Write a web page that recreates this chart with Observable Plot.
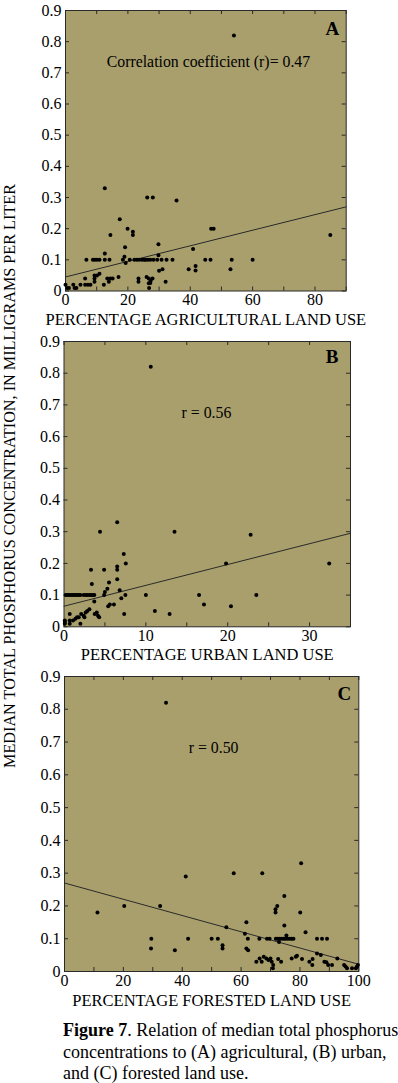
<!DOCTYPE html>
<html>
<head>
<meta charset="utf-8">
<script src="https://cdn.jsdelivr.net/npm/d3@7"></script>
<script src="https://cdn.jsdelivr.net/npm/@observablehq/plot@0.6"></script>
<style>
  body { margin: 0; background: #fff; }
  #wrap { position: relative; width: 398px; height: 1083px; overflow: hidden;
          font-family: "Liberation Serif", "Times New Roman", serif; color: #000; }
  .panel { position: absolute; left: 0; }
  #ylab { position: absolute; left: 10px; top: 476px; white-space: nowrap; font-size: 16.2px;
          transform: translate(-50%, -50%) rotate(-90deg); }
  #cap { position: absolute; left: 63px; top: 1020px; font-size: 18px; line-height: 21.7px; white-space: nowrap; }
</style>
</head>
<body>
<div id="wrap">
  <div id="ylab">MEDIAN TOTAL PHOSPHORUS CONCENTRATION, IN MILLIGRAMS PER LITER</div>
  <div id="pA" class="panel" style="top:0px"></div>
  <div id="pB" class="panel" style="top:330.7px"></div>
  <div id="pC" class="panel" style="top:666px"></div>
  <div id="cap"><b>Figure 7</b>. Relation of median total phosphorus<br>concentrations to (A) agricultural, (B) urban,<br>and (C) forested land use.</div>
</div>
<script>
// ---- Data ----
const yTicks = [0, 0.1, 0.2, 0.3, 0.4, 0.5, 0.6, 0.7, 0.8, 0.9];

// Panel A: agricultural land use
const agTicks = [0, 10, 20, 30, 40, 50, 60, 70, 80, 90];
const agPct = [54, 12.6, 26.2, 28.0, 35.6, 17.4, 19.9, 21.6, 21.6, 14.4, 46.7, 47.5, 84.9, 12.6, 19.1, 29.8, 40.9, 18.9, 19.3, 29.8,
  6.7, 8.8, 9.4, 10.1, 10.9, 12.6, 14.1, 18.4, 20.6, 22.1, 22.9, 23.6, 24.5, 25.2, 25.7, 26.4, 27.2, 28.2, 29.4, 30.8, 32.4, 34.3, 44.8, 46.5, 53.3, 60.0,
  6.3, 6.3, 7.2, 8.0, 9.3, 10.1, 9.3, 9.3, 10.9, 12.3, 13.4, 14.4, 15.1, 13.9, 17.0, 23.4, 23.4,
  26.0, 26.7, 27.3, 27.9, 26.7, 26.8, 27.2, 30.0, 31.1, 32.1, 39.5, 41.7, 41.7, 52.9,
  0, 0.5, 1.1, 2.5, 2.9, 3.5, 4.8];
const agTP = [0.82, 0.33, 0.30, 0.30, 0.29, 0.23, 0.20, 0.19, 0.18, 0.18, 0.20, 0.20, 0.18, 0.12, 0.14, 0.15, 0.135, 0.11, 0.09, 0.115,
  0.1, 0.1, 0.1, 0.1, 0.1, 0.1, 0.1, 0.1, 0.1, 0.1, 0.1, 0.1, 0.1, 0.1, 0.1, 0.1, 0.1, 0.1, 0.1, 0.1, 0.1, 0.1, 0.1, 0.1, 0.1, 0.1,
  0.04, 0.02, 0.02, 0.02, 0.05, 0.05, 0.04, 0.03, 0.055, 0.02, 0.04, 0.04, 0.04, 0.03, 0.045, 0.04, 0.03,
  0.045, 0.04, 0.033, 0.04, 0.025, 0.01, 0.026, 0.065, 0.07, 0.03, 0.07, 0.08, 0.066, 0.07,
  0.02, 0.01, 0.01, 0.02, 0.01, 0.01, 0.02];
const agFit = [[0, 0.045], [90, 0.27]];

// Panel B: urban land use
const urbTicks = [0, 5, 10, 15, 20, 25, 30, 35];
const urbPct = [10.6, 6.5, 4.4, 13.5, 22.8, 7.3, 7.55, 6.5, 6.5, 4.9, 3.3, 19.8, 32.4, 6.5, 5.5, 3.4, 5.3, 5.0, 6.8, 7.5, 4.9, 10.0,
  0.2, 0.4, 0.6, 0.8, 1.0, 1.2, 1.4, 1.6, 1.8, 2.0, 2.4, 2.65, 2.85, 3.1, 3.3, 3.5, 3.7,
  7.0, 3.7, 5.4, 5.6, 6.1, 7.35, 11.1, 12.9, 16.5, 23.5, 17.1, 20.4,
  0.1, 0.1, 0.1, 0.7, 0.7, 0.7, 1.1, 1.4, 1.6, 1.8, 2.0, 2.1, 2.4, 2.5, 2.65, 2.85, 3.1, 3.75, 4.0, 4.15, 4.3];
const urbTP = [0.82, 0.33, 0.30, 0.30, 0.29, 0.23, 0.20, 0.19, 0.18, 0.18, 0.18, 0.20, 0.20, 0.15, 0.14, 0.135, 0.12, 0.11, 0.115, 0.1, 0.1, 0.1,
  0.1, 0.1, 0.1, 0.1, 0.1, 0.1, 0.1, 0.1, 0.1, 0.1, 0.1, 0.1, 0.1, 0.1, 0.1, 0.1, 0.1,
  0.09, 0.08, 0.065, 0.07, 0.07, 0.04, 0.05, 0.04, 0.1, 0.1, 0.07, 0.065,
  0.02, 0.015, 0.01, 0.04, 0.02, 0.01, 0.02, 0.025, 0.03, 0.03, 0.01, 0.04, 0.035, 0.03, 0.045, 0.05, 0.055, 0.04, 0.045, 0.035, 0.03];
const urbFit = [[0, 0.065], [35, 0.295]];

// Panel C: forested land use
const forTicks = [0, 10, 20, 30, 40, 50, 60, 70, 80, 90, 100];
const forPct = [34.5, 57.5, 67.2, 80.4, 74.7, 72.3, 71.7, 71.7, 80.1, 61.8, 74.7, 55.0, 81.9, 61.3, 75.4, 72.9,
  50.0, 52.1, 62.3, 66.2, 68.8, 69.7, 71.8, 72.4, 73.1, 73.8, 74.5, 75.1, 75.8, 76.5, 77.2, 77.8, 85.8, 87.5, 89.2,
  53.7, 53.7, 61.8, 62.4,
  65.2, 66.3, 67.0, 67.7, 68.6, 69.3, 70.0, 70.4, 70.9, 70.8, 72.6, 73.6, 77.2, 78.6, 79.0, 80.7, 83.2, 84.3, 84.2, 85.8, 87.1,
  88.3, 89.0, 89.6, 90.9, 92.7, 95.0, 95.5, 96.0, 97.7, 99.0, 99.4, 99.7,
  11.2, 20.3, 32.5, 41.2, 29.5, 42.0, 29.4, 37.5];
const forTP = [0.82, 0.30, 0.30, 0.33, 0.23, 0.20, 0.19, 0.18, 0.18, 0.15, 0.14, 0.135, 0.12, 0.115, 0.11, 0.09,
  0.1, 0.1, 0.1, 0.1, 0.1, 0.1, 0.1, 0.1, 0.1, 0.1, 0.1, 0.1, 0.1, 0.1, 0.1, 0.1, 0.1, 0.1, 0.1,
  0.08, 0.07, 0.07, 0.065,
  0.03, 0.04, 0.03, 0.045, 0.04, 0.035, 0.04, 0.03, 0.02, 0.01, 0.038, 0.03, 0.04, 0.045, 0.048, 0.038, 0.03, 0.038, 0.02, 0.055, 0.05,
  0.03, 0.028, 0.02, 0.02, 0.04, 0.02, 0.015, 0.01, 0.01, 0.01, 0.015, 0.02,
  0.18, 0.20, 0.20, 0.29, 0.1, 0.1, 0.07, 0.065];
const forFit = [[0, 0.27], [100, 0.022]];

const BG = "#a89f6c";
const INK = "#2a2a2a";
const SERIF = "'Liberation Serif', 'Times New Roman', serif";

function panel({xs, ys, xDomain, xTicks, fit, label, labelDy, letter, rText, ml, mr, innerH, letterDx, letterDy, rDx, rDy}) {
  const data = xs.map((x, i) => ({x, y: ys[i]}));
  const fitData = fit.map(([x, y]) => ({x, y}));
  const W = 398 - ml - mr;
  return Plot.plot({
    width: 398, height: innerH + 50,
    marginLeft: ml, marginRight: mr, marginTop: 10, marginBottom: 40,
    style: {fontFamily: SERIF, fontSize: "16px", background: "transparent", color: "#000", overflow: "visible"},
    x: {domain: xDomain, ticks: xTicks},
    y: {domain: [0, 0.9], ticks: yTicks},
    marks: [
      Plot.frame({fill: BG, stroke: "none"}),
      Plot.tickX(xTicks, {x: d => d, insetTop: innerH - 4, stroke: INK}),
      Plot.tickX(xTicks, {x: d => d, insetBottom: innerH - 4, stroke: INK}),
      Plot.tickY(yTicks, {y: d => d, insetLeft: W - 4, stroke: INK}),
      Plot.tickY(yTicks, {y: d => d, insetRight: W - 4, stroke: INK}),
      Plot.frame({stroke: INK, fill: "none"}),
      Plot.axisX({tickSize: 0, tickPadding: 3, label: null, tickFormat: d => String(d), fill: "#000", fontFamily: SERIF, fontSize: 16}),
      Plot.axisY({tickSize: 0, tickPadding: 4, label: null, tickFormat: d => d === 0 ? "0" : d.toFixed(1), fill: "#000", fontFamily: SERIF, fontSize: 16}),
      Plot.line(fitData, {x: "x", y: "y", stroke: INK, strokeWidth: 1}),
      Plot.dot(data, {x: "x", y: "y", r: 2, fill: "#000", stroke: "none"}),
      Plot.text([label], {text: d => d, frameAnchor: "bottom", lineAnchor: "middle", dy: labelDy, fontSize: 16.5, fontFamily: SERIF, fill: "#000"}),
      Plot.text([letter], {text: d => d, frameAnchor: "top-right", lineAnchor: "middle", textAnchor: "end", dx: letterDx, dy: letterDy, fontSize: 19, fontWeight: "bold", fontFamily: SERIF, fill: "#000"}),
      Plot.text([rText], {text: d => d, frameAnchor: "top", lineAnchor: "middle", dx: rDx, dy: rDy, fontSize: 15.8, fontFamily: SERIF, fill: "#000"})
    ]
  });
}

document.getElementById("pA").append(panel({
  xs: agPct, ys: agTP, xDomain: [0, 90], xTicks: agTicks, fit: agFit,
  label: "PERCENTAGE AGRICULTURAL LAND USE", labelDy: 28.5, letter: "A", rText: "Correlation coefficient (r)= 0.47",
  ml: 65, mr: 52.3, innerH: 280.5, letterDx: -7, letterDy: 18, rDx: 2.6, rDy: 51
}));
document.getElementById("pB").append(panel({
  xs: urbPct, ys: urbTP, xDomain: [0, 35], xTicks: urbTicks, fit: urbFit,
  label: "PERCENTAGE URBAN LAND USE", labelDy: 28, letter: "B", rText: "r = 0.56",
  ml: 63.5, mr: 48, innerH: 285.3, letterDx: -12, letterDy: 15, rDx: -0.8, rDy: 71
}));
document.getElementById("pC").append(panel({
  xs: forPct, ys: forTP, xDomain: [0, 100], xTicks: forTicks, fit: forFit,
  label: "PERCENTAGE FORESTED LAND USE", labelDy: 29.7, letter: "C", rText: "r = 0.50",
  ml: 64, mr: 39.7, innerH: 295, letterDx: -7.5, letterDy: 17.3, rDx: 2, rDy: 71.7
}));
</script>
</body>
</html>
